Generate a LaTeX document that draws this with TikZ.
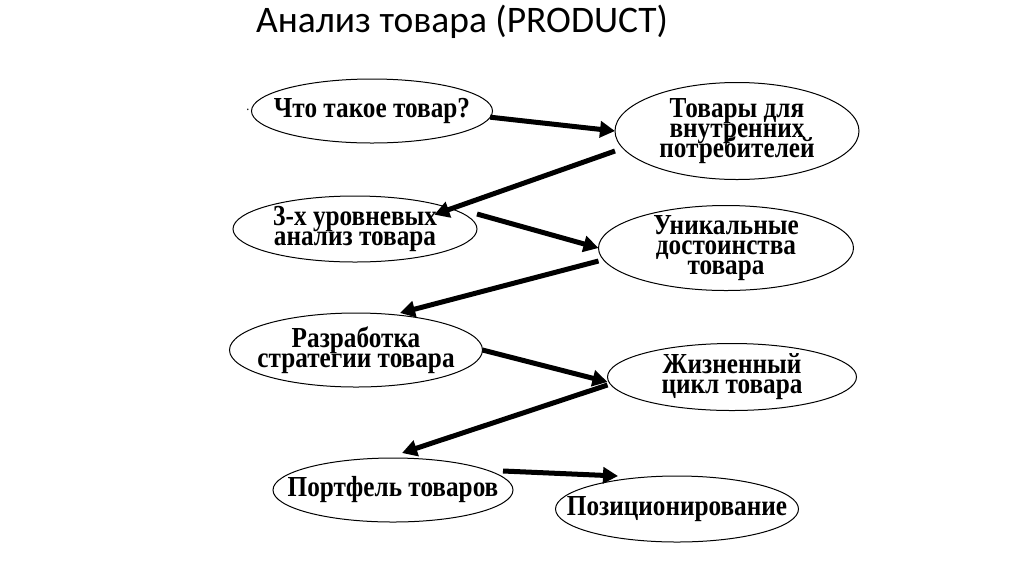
\documentclass[tikz,border=0pt]{standalone}
\usepackage{fontspec}
\setmainfont{Liberation Serif}
\newfontfamily\titlefont{Carlito}
\newfontfamily\boxfont[FakeStretch=0.87]{Liberation Serif}
\usetikzlibrary{shapes.geometric,arrows.meta,positioning}
\setlength{\lineskiplimit}{-40pt}

\tikzset{
  topic/.style={ellipse, draw, line width=1pt, inner sep=0pt, outer sep=0pt},
  caption/.style={align=center, inner sep=0pt,
    font=\boxfont\bfseries\fontsize{29}{20}\selectfont},
  link/.style={line width=5pt, -{Triangle[length=15pt,width=16pt]}},
}

\begin{document}
\begin{tikzpicture}[x=1pt,y=-1pt]
    \useasboundingbox (0,0) rectangle (1024,574);

    % Title
    \node[font=\titlefont\fontsize{37.5}{40}\selectfont] (title) at (462,22) {Анализ товара (PRODUCT)};
    \node[font=\boxfont\fontsize{14}{14}\selectfont, inner sep=0pt] (dot) at (248,110) {.};

    % Left column
    \node[topic, minimum width=241pt, minimum height=64pt,
          label={[caption]center:Что такое товар?}] (what) at (372,111) {};
    \node[topic, minimum width=244pt, minimum height=66pt,
          label={[caption]center:{3-х уровневых\\анализ товара}}] (levels) at (355,229) {};
    \node[topic, minimum width=253pt, minimum height=74pt,
          label={[caption]center:{Разработка\\стратегии товара}}] (strategy) at (356,350) {};
    \node[topic, minimum width=240pt, minimum height=64pt,
          label={[caption]center:Портфель товаров}] (portfolio) at (393,490) {};

    % Right column
    \node[topic, minimum width=244pt, minimum height=97pt,
          label={[caption]center:{Товары для\\внутренних\\потребителей}}] (inner) at (737,131) {};
    \node[topic, minimum width=255pt, minimum height=85pt,
          label={[caption]center:{Уникальные\\достоинства\\товара}}] (unique) at (726,248) {};
    \node[topic, minimum width=249pt, minimum height=67pt,
          label={[caption]center:{Жизненный\\цикл товара}}] (life) at (732,377) {};
    \node[topic, minimum width=243pt, minimum height=66pt,
          label={[caption]center:Позиционирование}] (position) at (677,509) {};

    % Arrows
    \draw[link] (what.-3) -- (inner.west);
    \draw[link] ([yshift=-20pt]inner.west) -- ([xshift=-7pt,yshift=-9pt]levels.north east);
    \draw[link] ([yshift=15pt]levels.east) -- (unique.west);
    \draw[link] ([yshift=-13pt]unique.west) -- ([xshift=44pt]strategy.north);
    \draw[link] (strategy.east) -- ([yshift=-5pt]life.west);
    \draw[link] ([yshift=-8pt]life.west) -- ([xshift=9pt,yshift=5pt]portfolio.north);
    \draw[link] ([xshift=-10pt,yshift=19pt]portfolio.east) -- ([xshift=-59pt]position.north);
\end{tikzpicture}
\end{document}
